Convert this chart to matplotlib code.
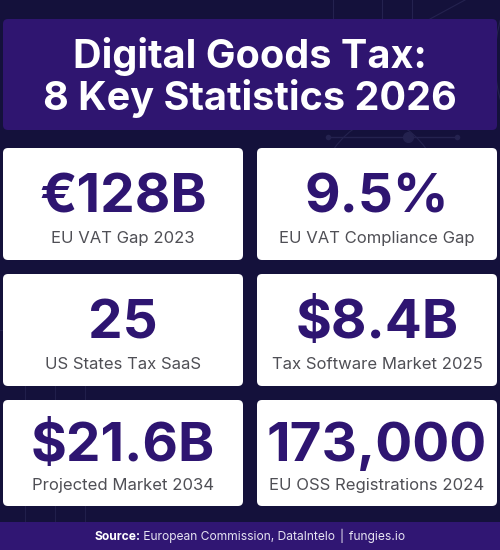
import matplotlib.pyplot as plt
from matplotlib.patches import FancyBboxPatch, Rectangle, Arc

plt.rcParams["font.family"] = ["Inter", "DejaVu Sans"]

title_lines = ["Digital Goods Tax:", "8 Key Statistics 2026"]
values = ["€128B", "9.5%", "25", "$8.4B", "$21.6B", "173,000"]
labels = ["EU VAT Gap 2023", "EU VAT Compliance Gap",
          "US States Tax SaaS", "Tax Software Market 2025",
          "Projected Market 2034", "EU OSS Registrations 2024"]
source_bold = "Source:"
source_rest = "European Commission, DataIntelo │ fungies.io"

bg = "#14113b"
purple = "#2f1570"
val_col = "#2e1571"
lab_col = "#4f4f55"
line_col = "#24224f"

fig = plt.figure(figsize=(5, 5.5), dpi=100)
fig.patch.set_facecolor(bg)
ax = fig.add_axes([0, 0, 1, 1])
ax.set_xlim(0, 500)
ax.set_ylim(550, 0)
ax.axis("off")

# faint background decoration
for x in [333, 382, 412]:
    ax.plot([x, x], [0, 19], color=line_col, lw=0.8, zorder=0)
ax.plot([430, 465], [19, 0], color=line_col, lw=0.8, zorder=0)
ax.add_patch(Arc((560, 60), 130, 200, theta1=120, theta2=250, color=line_col, lw=0.8, zorder=0))
ax.add_patch(Arc((380, 300), 170, 360, theta1=250, theta2=290, color=line_col, lw=0.8, zorder=0))
ax.plot([328, 457], [137, 137], color=line_col, lw=1, zorder=0)
ax.plot([328, 457], [137, 137], "o", color=line_col, ms=3, zorder=0)
ax.plot([408], [137], "o", color=line_col, ms=7, zorder=0)
for x in [25, 55, 85]:
    ax.plot([x, x], [386, 400], color=line_col, lw=0.6, zorder=0)
    ax.plot([x, x], [506, 522], color=line_col, lw=0.6, zorder=0)
ax.plot([0, 4], [330, 330], color=line_col, lw=0.6, zorder=0)

# title box
ax.add_patch(FancyBboxPatch((3, 19), 494, 111, boxstyle="round,pad=0,rounding_size=5",
                            fc=purple, ec="none", zorder=1))
for i, line in enumerate(title_lines):
    ax.text(250, 68 + 42 * i, line, ha="center", va="baseline", color="white",
            fontsize=28.5, fontweight="bold", zorder=2)

# stat cards
col_x = [3, 257]
card_w = 240
row_top = [148, 274, 400]
row_h = [112, 112, 106]
for i, (v, lab) in enumerate(zip(values, labels)):
    r, c = divmod(i, 2)
    x0, y0, h = col_x[c], row_top[r], row_h[r]
    ax.add_patch(FancyBboxPatch((x0, y0), card_w, h, boxstyle="round,pad=0,rounding_size=5",
                                fc="white", ec="none", zorder=1))
    cx = x0 + card_w / 2
    ax.text(cx, y0 + 0.572 * h, v, ha="center", va="baseline", color=val_col,
            fontsize=39.5, fontweight="bold", zorder=2)
    ax.text(cx, y0 + 0.845 * h, lab, ha="center", va="baseline", color=lab_col,
            fontsize=12, zorder=2)

# footer
ax.add_patch(Rectangle((0, 522), 500, 28, fc="#301673", ec="none", zorder=1))
fig.canvas.draw()
r = fig.canvas.get_renderer()
t1 = ax.text(0, 540, source_bold, ha="left", va="baseline", color="white",
             fontsize=8.7, fontweight="bold", zorder=2)
t2 = ax.text(0, 540, " " + source_rest, ha="left", va="baseline", color="#e6e3f2",
             fontsize=8.7, zorder=2)
w1 = t1.get_window_extent(r).width
w2 = t2.get_window_extent(r).width
start = 250 - (w1 + w2) / 2
t1.set_x(start)
t2.set_x(start + w1)

fig.savefig("out.png", dpi=100, facecolor=bg)
